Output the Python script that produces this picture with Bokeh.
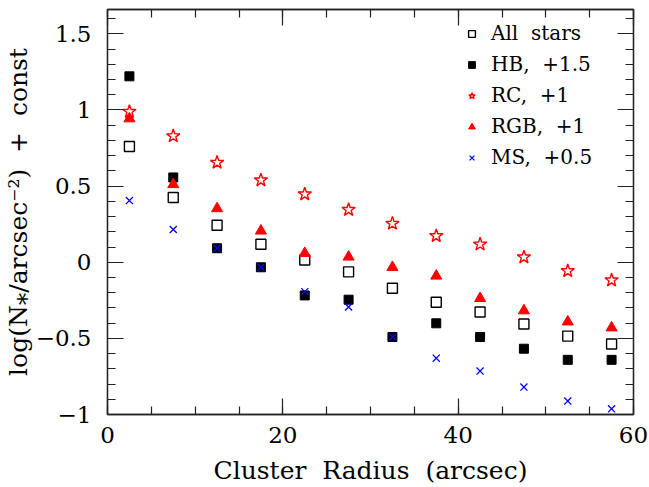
from bokeh.plotting import figure
from bokeh.models import LinearAxis, Legend, LegendItem, FixedTicker, Range1d, CustomLabelingPolicy
from bokeh.embed import file_html
from bokeh.resources import INLINE

# ---- data ----
radius = [2.5, 7.5, 12.5, 17.5, 22.5, 27.5, 32.5, 37.5, 42.5, 47.5, 52.5, 57.5]
all_stars = [0.760, 0.425, 0.243, 0.118, 0.015, -0.063, -0.171, -0.263, -0.327, -0.406, -0.485, -0.537]
hb_15 = [1.221, 0.557, 0.092, -0.033, -0.218, -0.246, -0.491, -0.401, -0.491, -0.568, -0.641, -0.641]
rc_1 = [0.989, 0.829, 0.655, 0.539, 0.447, 0.345, 0.254, 0.173, 0.118, 0.033, -0.057, -0.118]
rgb_1 = [0.943, 0.511, 0.353, 0.206, 0.059, 0.035, -0.033, -0.090, -0.237, -0.318, -0.391, -0.430]
ms_05 = [0.405, 0.215, 0.092, -0.033, -0.193, -0.294, -0.491, -0.630, -0.715, -0.820, -0.912, -0.963]

x_ticks = [0, 20, 40, 60]
x_minor = [0, 5, 10, 15, 20, 25, 30, 35, 40, 45, 50, 55, 60]
y_ticks = [-1, -0.5, 0, 0.5, 1, 1.5]
y_minor = [-1.0, -0.9, -0.8, -0.7, -0.6, -0.5, -0.4, -0.3, -0.2, -0.1, 0.0,
           0.1, 0.2, 0.3, 0.4, 0.5, 0.6, 0.7, 0.8, 0.9, 1.0, 1.1, 1.2, 1.3, 1.4, 1.5, 1.6]
y_tick_labels = {-1: "\u22121", -0.5: "\u22120.5", 0: "0", 0.5: "0.5", 1: "1", 1.5: "1.5"}

FONT = "DejaVu Serif"
AX = "#222222"

p = figure(width=649, height=487, output_backend="svg", toolbar_location=None,
           x_range=Range1d(0, 60), y_range=Range1d(-1, 1.66),
           x_axis_label="Cluster\u00a0 Radius\u00a0 (arcsec)",
           y_axis_label="log(N\u204e/arcsec\u207b\u00b2)\u00a0 +\u00a0 const",
           min_border_left=105, min_border_right=16, min_border_top=9, min_border_bottom=73)
p.xgrid.visible = False
p.ygrid.visible = False
p.outline_line_color = AX
p.outline_line_width = 1.3
p.background_fill_color = "white"
p.border_fill_color = "white"

bottom_ax = p.below[0]
left_ax = p.left[0]

# mirrored axes (ticks only)
top_ax = LinearAxis()
right_ax = LinearAxis()
p.add_layout(top_ax, "above")
p.add_layout(right_ax, "right")

for ax in (bottom_ax, top_ax):
    ax.ticker = FixedTicker(ticks=x_ticks, minor_ticks=x_minor)
for ax in (left_ax, right_ax):
    ax.ticker = FixedTicker(ticks=y_ticks, minor_ticks=y_minor)

for ax in (bottom_ax, top_ax, left_ax, right_ax):
    ax.major_tick_in = 16
    ax.major_tick_out = 0
    ax.minor_tick_in = 8
    ax.minor_tick_out = 0
    ax.axis_line_color = AX
    ax.axis_line_width = 1.3
    ax.major_tick_line_color = AX
    ax.minor_tick_line_color = AX
    ax.major_tick_line_width = 1.2
    ax.minor_tick_line_width = 1.2
    ax.major_label_text_font = FONT
    ax.major_label_text_font_size = "23px"
    ax.major_label_text_color = "black"
    ax.axis_label_text_font = FONT
    ax.axis_label_text_font_size = "25px"
    ax.axis_label_text_font_style = "normal"
    ax.axis_label_text_color = "black"

left_ax.major_label_overrides = y_tick_labels
left_ax.major_label_standoff = 16
left_ax.axis_label_standoff = 0
bottom_ax.major_label_standoff = 12
bottom_ax.axis_label_standoff = 10

for ax in (top_ax, right_ax):
    ax.major_label_policy = CustomLabelingPolicy(code="return []")
    ax.major_label_text_font_size = "0px"
    ax.major_label_standoff = 0
    ax.axis_label = None

r_all = p.scatter(radius, all_stars, marker="square", size=10, fill_color=None,
                  line_color="black", line_width=1.4)
r_hb = p.scatter(radius, hb_15, marker="square", size=9, fill_color="black",
                 line_color="black")
r_rc = p.scatter(radius, rc_1, marker="star", size=14, fill_color=None,
                 line_color="#ff0000", line_width=1.4)
r_rgb = p.scatter(radius, rgb_1, marker="triangle", size=11, fill_color="#ff0000",
                  line_color="#ff0000")
r_ms = p.scatter(radius, ms_05, marker="x", size=10, line_color="#0000ff", line_width=1.3)

legend = Legend(items=[
    LegendItem(label="All\u00a0 stars", renderers=[r_all]),
    LegendItem(label="HB,\u00a0 +1.5", renderers=[r_hb]),
    LegendItem(label="RC,\u00a0 +1", renderers=[r_rc]),
    LegendItem(label="RGB,\u00a0 +1", renderers=[r_rgb]),
    LegendItem(label="MS,\u00a0 +0.5", renderers=[r_ms]),
], location=(356, 245), padding=0, margin=0, spacing=7,
    glyph_width=17, glyph_height=17, label_height=17, label_standoff=11,
    label_text_font=FONT, label_text_font_size="20px", label_text_color="black",
    border_line_alpha=0, background_fill_alpha=0)
p.add_layout(legend)

open("out.html", "w").write(file_html(p, INLINE))
